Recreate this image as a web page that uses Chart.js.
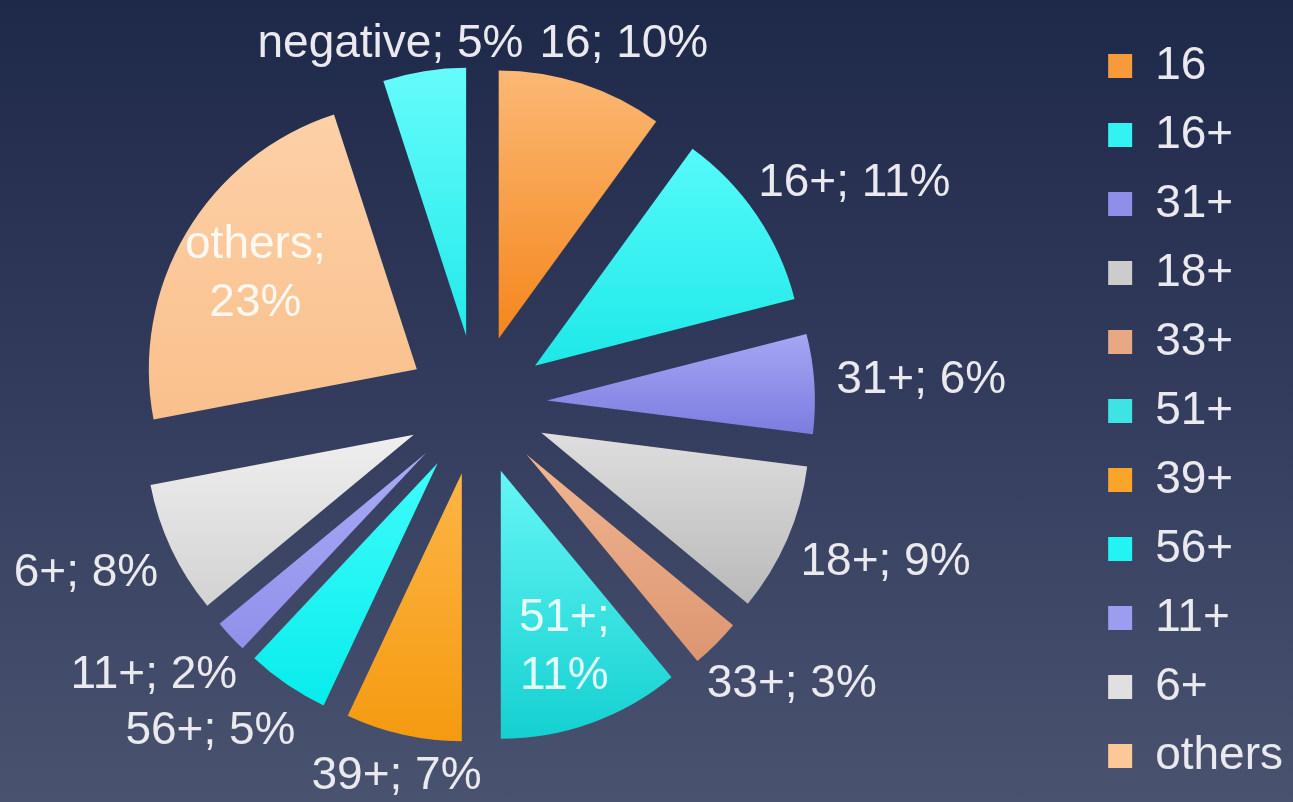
<!DOCTYPE html>
<html>
<head>
<meta charset="utf-8">
<script src="https://cdn.jsdelivr.net/npm/chart.js@4.4.1/dist/chart.umd.min.js"></script>
<style>
  html, body { margin: 0; padding: 0; }
  body {
    width: 1293px; height: 802px; overflow: hidden; position: relative;
    background: linear-gradient(180deg, #1e2848 0%, #333c5d 50%, #49536f 100%);
  }
  /* canvas is wider than the page so the pie sits left of centre */
  #wrap { position: absolute; left: -131px; top: 0; width: 1424px; height: 802px; }
</style>
</head>
<body>
<div id="wrap"><canvas id="pie"></canvas></div>
<script>
// slices, clockwise from 12 o'clock
var labels = ['16', '16+', '31+', '18+', '33+', '51+', '39+', '56+', '11+', '6+', 'others', 'negative'];
var shares = [10, 11, 6, 9, 3, 11, 7, 5, 2, 8, 23, 5];

// styling
var lightColors = ['#fbb874', '#55fafa', '#a6a6f4', '#dedede', '#f2b592', '#66f6f6',
                   '#fcb546', '#3ffcfc', '#aaaaf8', '#efefef', '#fdd0a6', '#66fbfb'];
var darkColors = ['#f5861c', '#1ee8e8', '#7c7ce0', '#b9b9b9', '#db9670', '#14d0d0',
                  '#f59a10', '#08ecec', '#9090ea', '#d2d2d2', '#f9c08c', '#22eaea'];
var flatColors = ['#f79a3c', '#33f2f2', '#8f8fea', '#cccccc', '#e7a883', '#3ee3e3',
                  '#f8a52a', '#22f4f4', '#9c9cf1', '#e0e0e0', '#fbc898', '#44f2f2'];
var insideLabels = ['51+', 'others'];

var RADIUS = 268;   // slice radius
var EXPLODE = 70;   // how far every slice is pulled out
var GAP = 22;       // label distance from the arc
var MIN_SPACE = 16; // smallest horizontal space between neighbour labels
var FONT_SIZE = 46;
var FONT = "'Liberation Sans', Arial, sans-serif";
var TEXT = '#e9e9ee';

function total() {
    return shares.reduce(function (a, b) { return a + b; }, 0);
}

function sliceGeometry(chart, i) {
    var area = chart.chartArea;
    var sum = total();
    var start = -Math.PI / 2;
    for (var k = 0; k < i; k++) start += shares[k] / sum * 2 * Math.PI;
    var end = start + shares[i] / sum * 2 * Math.PI;
    var mid = (start + end) / 2;
    return {
        start: start,
        end: end,
        cx: (area.left + area.right) / 2 + Math.cos(mid) * EXPLODE,
        cy: (area.top + area.bottom) / 2 + Math.sin(mid) * EXPLODE
    };
}

// vertical light-to-dark gradient across each slice
function sliceFill(context) {
    var chart = context.chart;
    var i = context.dataIndex;
    if (!chart.chartArea) return flatColors[i];
    var g = sliceGeometry(chart, i);
    var top = g.cy, bottom = g.cy;
    for (var s = 0; s <= 24; s++) {
        var a = g.start + (g.end - g.start) * s / 24;
        var y = g.cy + Math.sin(a) * RADIUS;
        top = Math.min(top, y);
        bottom = Math.max(bottom, y);
    }
    var grad = chart.ctx.createLinearGradient(0, top, 0, bottom);
    grad.addColorStop(0, lightColors[i]);
    grad.addColorStop(1, darkColors[i]);
    return grad;
}

var explodePlugin = {
    id: 'explode',
    afterDatasetsUpdate: function (chart) {
        chart.getDatasetMeta(0).data.forEach(function (arc) {
            var mid = (arc.startAngle + arc.endAngle) / 2;
            arc.x += Math.cos(mid) * EXPLODE;
            arc.y += Math.sin(mid) * EXPLODE;
            arc.outerRadius = RADIUS;
        });
    }
};

var labelPlugin = {
    id: 'sliceLabels',
    afterDatasetsDraw: function (chart) {
        var ctx = chart.ctx;
        var sum = total();
        var arcs = chart.getDatasetMeta(0).data;
        var boxes = [];
        ctx.save();
        ctx.font = FONT_SIZE + 'px ' + FONT;
        ctx.textAlign = 'center';
        ctx.textBaseline = 'middle';

        arcs.forEach(function (arc, i) {
            var mid = (arc.startAngle + arc.endAngle) / 2;
            var cos = Math.cos(mid), sin = Math.sin(mid);
            var pct = Math.round(shares[i] / sum * 100) + '%';

            if (insideLabels.indexOf(labels[i]) >= 0) {
                var r = arc.outerRadius * 0.7;
                var ix = arc.x + cos * r, iy = arc.y + sin * r;
                ctx.fillStyle = 'rgba(255,255,255,0.88)';
                ctx.fillText(labels[i] + ';', ix, iy - 29);
                ctx.fillText(pct, ix, iy + 29);
                return;
            }

            var text = labels[i] + '; ' + pct;
            var w = ctx.measureText(text).width;
            var ax = arc.x + cos * (arc.outerRadius + GAP);
            var ay = arc.y + sin * (arc.outerRadius + GAP);
            var x = ax + cos * w / 2, y = ay + sin * 35;
            y = Math.max(44, Math.min(chart.height - 26, y));
            boxes.push({ i: i, text: text, w: w, x: x, y: y });
        });

        // push neighbouring labels apart when they crowd each other
        for (var k = 0; k < boxes.length; k++) {
            var a = boxes[k], b = boxes[(k + 1) % boxes.length];
            if (a === b || Math.abs(a.y - b.y) >= FONT_SIZE) continue;
            var left = a.x < b.x ? a : b, right = left === a ? b : a;
            var space = (right.x - right.w / 2) - (left.x + left.w / 2);
            if (space < MIN_SPACE) {
                var push = (MIN_SPACE - space) / 2;
                left.x -= push;
                right.x += push;
            }
        }

        ctx.fillStyle = TEXT;
        boxes.forEach(function (b) {
            var x = Math.max(b.w / 2 + 6, Math.min(chart.width - b.w / 2 - 6, b.x));
            ctx.fillText(b.text, x, b.y);
        });
        ctx.restore();
    }
};

new Chart(document.getElementById('pie'), {
    type: 'pie',
    data: {
        labels: labels,
        datasets: [{
            data: shares,
            backgroundColor: sliceFill,
            borderWidth: 0,
            hoverOffset: 0
        }]
    },
    options: {
        responsive: true,
        maintainAspectRatio: false,
        animation: false,
        layout: { padding: { left: 0, right: 0, top: 8, bottom: 0 } },
        plugins: {
            tooltip: { enabled: false },
            legend: {
                position: 'right',
                align: 'end',
                labels: {
                    color: TEXT,
                    font: { size: FONT_SIZE, family: FONT },
                    boxWidth: 24,
                    boxHeight: 24,
                    padding: 23,
                    generateLabels: function () {
                        return labels.map(function (l, i) {
                            return {
                                text: l,
                                fillStyle: flatColors[i],
                                strokeStyle: flatColors[i],
                                lineWidth: 0,
                                fontColor: TEXT,
                                hidden: false,
                                index: i
                            };
                        });
                    },
                    filter: function (item) {
                        return item.text !== 'negative';
                    }
                }
            }
        }
    },
    plugins: [explodePlugin, labelPlugin]
});
</script>
</body>
</html>
